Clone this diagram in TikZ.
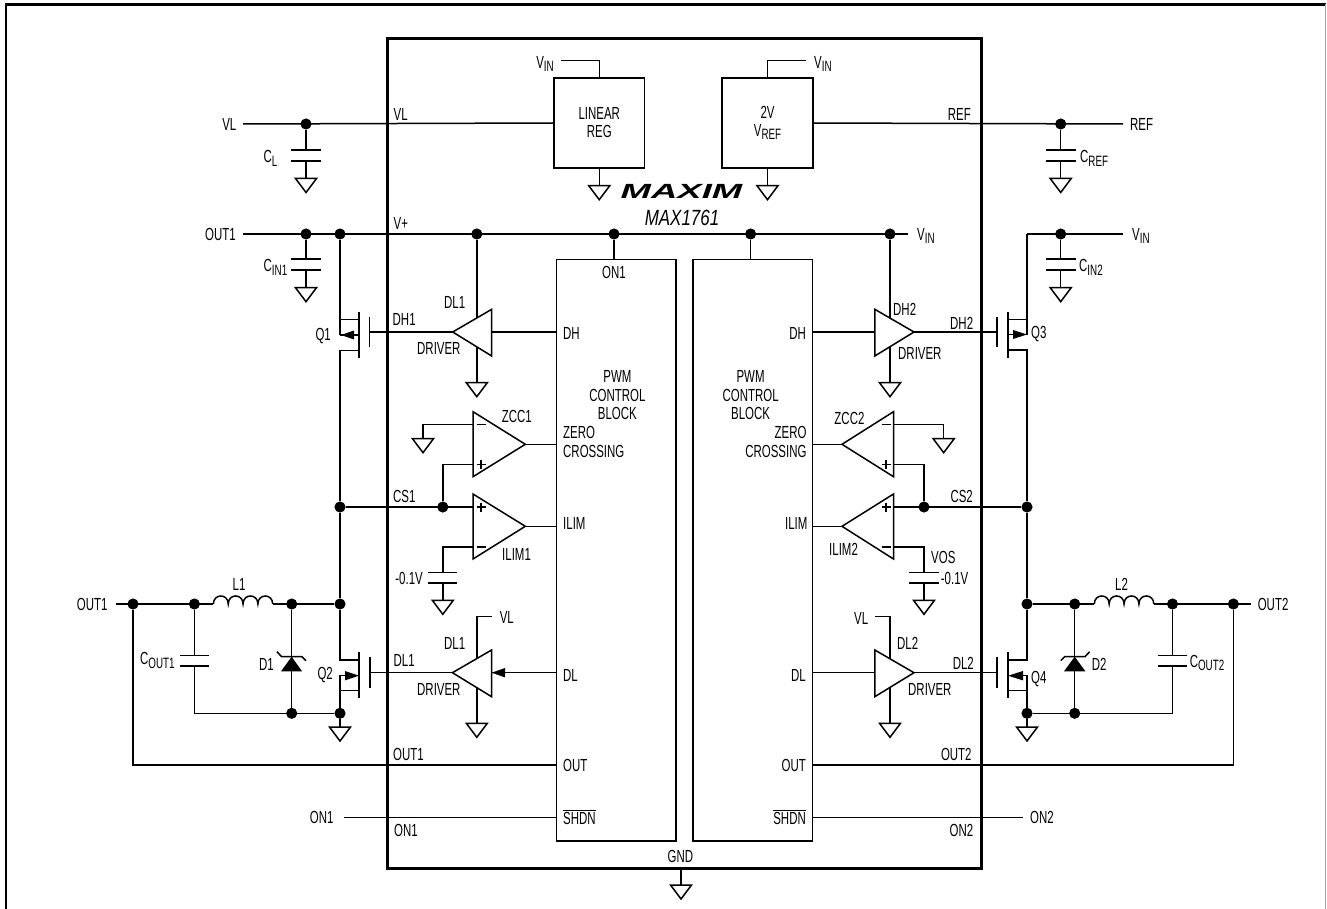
\documentclass[tikz,border=0pt]{standalone}
\usepackage{fontspec}
\setmainfont{Liberation Sans}[FakeStretch=0.655]
\newfontfamily\logof{Liberation Sans}[FakeStretch=1.78]
\newfontfamily\partf{Liberation Sans}[FakeStretch=0.77]
\newcounter{tn}
\tikzset{
  x=1pt,y=-1pt,
  wire/.style={line width=1.5pt,line cap=butt,line join=miter},
  sym/.style={line width=1.5pt,fill=white,line join=miter},
  frameline/.style={line width=2.6pt},
  icbox/.style={line width=3.4pt},
  jdot/.style={circle,fill=black,draw=none,inner sep=0pt,minimum size=11pt},
  blockn/.style={draw,line width=1.5pt,inner sep=0pt,align=center,font=\fontsize{17.5}{18}\selectfont},
  lbl/.style={inner sep=0pt,font=\fontsize{17.5}{18}\selectfont},
  tip/.style={fill=black,draw=none}
}
\newcommand\lsub[1]{\raisebox{-3.4pt}{\fontsize{15}{15}\selectfont #1}}
\newcommand\Tl[3]{\stepcounter{tn}\node[lbl,anchor=base west] (T\arabic{tn}) at (#1,#2+6.2) {#3};}
\newcommand\Tr[3]{\stepcounter{tn}\node[lbl,anchor=base east] (T\arabic{tn}) at (#1,#2+6.2) {#3};}
\newcommand\Tc[3]{\stepcounter{tn}\node[lbl,anchor=base] (T\arabic{tn}) at (#1,#2+6.2) {#3};}
\newcommand\dotn[3]{\node[jdot] (#1) at (#2,#3) {};}
\newcommand\gnd[3]{\coordinate (#1) at (#2,#3);
  \draw[sym] (#1) -- ++(-10.5,0) -- ++(10.5,14) -- ++(10.5,-14) -- cycle;}
\newcommand\capn[5]{\coordinate (#1a) at (#2,#3); \coordinate (#1b) at (#2,#4);
  \draw[wire] (#1a) +(-#5,0) -- +(#5,0); \draw[wire] (#1b) +(-#5,0) -- +(#5,0);}
% triangle: name, base x, tip x, top y, mid y, bottom y
\newcommand\tri[6]{\coordinate (#1t) at (#2,#4); \coordinate (#1p) at (#3,#5); \coordinate (#1b) at (#2,#6);
  \coordinate (#1m) at (#2,#5);
  \draw[sym] (#1t) -- (#1p) -- (#1b) -- cycle;}
% coil: name, x0, x1, y
\newcommand\coil[4]{\coordinate (#1a) at (#2,#4); \coordinate (#1e) at (#3,#4);
  \coordinate (#1b) at ($(#1a)!.25!(#1e)$); \coordinate (#1c) at ($(#1a)!.5!(#1e)$); \coordinate (#1d) at ($(#1a)!.75!(#1e)$);
  \draw[wire] (#1a) .. controls +(0,-10.7) and +(0,-10.7) .. (#1b) .. controls +(0,-10.7) and +(0,-10.7) .. (#1c)
     .. controls +(0,-10.7) and +(0,-10.7) .. (#1d) .. controls +(0,-10.7) and +(0,-10.7) .. (#1e);}
\usetikzlibrary{calc}
\begin{document}
\begin{tikzpicture}
\useasboundingbox (0,0) rectangle (1327,909);
% frame
\coordinate (fa) at (6,909); \coordinate (fb) at (6,4.5); \coordinate (fc) at (1325.5,4.5); \coordinate (fd) at (1325.5,909);
\draw[frameline] (fa) -- (fb) -- (fc);
\draw[line width=1pt,black!35] (fc) -- (fd);
% IC
\node[draw,icbox,minimum width=594pt,minimum height=830pt,inner sep=0pt,anchor=north west] (ic) at (386,37) {};
% blocks
\node[blockn,minimum width=90.5pt,minimum height=90pt] (lin) at (599.25,123) {LINEAR\\REG};
\node[blockn,minimum width=91pt,minimum height=90pt] (vref) at (767.5,123) {2V\\V\lsub{REF}};
\node[blockn,minimum width=119.5pt,minimum height=581.3pt,anchor=north west] (pwmL) at (555.5,258.7) {};
\node[blockn,minimum width=119.5pt,minimum height=581.3pt,anchor=north west] (pwmR) at (692,258.7) {};
% junction dots
\dotn{dVL}{306}{124}
\dotn{dREF}{1060.7}{124}
\dotn{dP1}{306}{234}\dotn{dP2}{340}{234}\dotn{dP3}{476.8}{234}\dotn{dP4}{614}{234}\dotn{dP5}{750.6}{234}\dotn{dP6}{890}{234}
\dotn{dIN2}{1060.7}{234}
\dotn{dCS1a}{340}{507}\dotn{dCS1b}{442.8}{507}
\dotn{dCS2a}{1027}{507}\dotn{dCS2b}{924}{507}
\dotn{dL1a}{133}{604}\dotn{dL1b}{194.4}{604}\dotn{dL1c}{291.7}{604}\dotn{dL1d}{340}{604}
\dotn{dL2a}{1027}{604}\dotn{dL2b}{1074.7}{604}\dotn{dL2c}{1172.5}{604}\dotn{dL2d}{1233.4}{604}
\dotn{dG1a}{291.7}{713.3}\dotn{dG1b}{340}{713.3}
\dotn{dG2a}{1074.7}{713.3}\dotn{dG2b}{1027}{713.3}
% free ends
\coordinate (eVL) at (243,124);
\coordinate (eREF) at (1123,124);
\coordinate (eOUT1) at (243,234);
\coordinate (eVIN) at (908.4,234);
\coordinate (eVIN2) at (1123,234);
\coordinate (cIN2) at (1027,234);
\coordinate (eLinV) at (560.6,60.7); \coordinate (kLinV) at (lin.north|-eLinV);
\coordinate (eRefV) at (806,60.7); \coordinate (kRefV) at (vref.north|-eRefV);
\coordinate (eL1) at (116,604);
\coordinate (eL2) at (1250.8,604);
\coordinate (eON1) at (344,817.3);
\coordinate (eON2) at (1022.8,817.3);
% top wires
\draw[wire] (eVL) -- (lin.west);
\draw[wire] (vref.east) -- (eREF);
\draw[wire] (eLinV) -- (kLinV) -- (lin.north);
\draw[wire] (eRefV) -- (kRefV) -- (vref.north);
\gnd{gLin}{599.25}{185.7}\gnd{gRef}{767.5}{185.7}
\draw[wire] (lin.south) -- (gLin);
\draw[wire] (vref.south) -- (gRef);
\capn{cL}{306}{150}{161}{15}\gnd{gCL}{306}{178.5}
\draw[wire] (dVL) -- (cLa); \draw[wire] (cLb) -- (gCL);
\capn{cR}{1060.7}{150}{161}{15}\gnd{gCR}{1060.7}{178.5}
\draw[wire] (dREF) -- (cRa); \draw[wire] (cRb) -- (gCR);
% V+ rail
\draw[wire] (eOUT1) -- (eVIN);
\draw[wire] (dP4) -- (dP4|-pwmL.north);
\draw[wire] (dP5) -- (dP5|-pwmR.north);
\capn{cI1}{306}{259}{270}{15}\gnd{gI1}{306}{287.7}
\draw[wire] (dP1) -- (cI1a); \draw[wire] (cI1b) -- (gI1);
\draw[wire] (cIN2) -- (eVIN2);
\capn{cI2}{1060.7}{259}{270}{15}\gnd{gI2}{1060.7}{287.7}
\draw[wire] (dIN2) -- (cI2a); \draw[wire] (cI2b) -- (gI2);
% Q1
\coordinate (q1t) at (340,319.7); \coordinate (q1u) at (359,319.7);
\coordinate (q1m) at (340,335); \coordinate (q1n) at (359,335);
\coordinate (q1l) at (340,350.3); \coordinate (q1v) at (359,350.3);
\draw[wire] (dP2) -- (q1m);
\draw[wire] (q1t) -- (q1u);
\draw[wire] (q1v) -- (q1l) -- (dCS1a);
\draw[wire] (dCS1a) -- (dL1d);
\draw[wire] (q1n) -- (q1m);
\draw[line width=1.5pt] (359,312) -- (359,358);
\draw[line width=1.5pt] (369.7,317) -- (369.7,347);
\fill[tip] (341,335) -- (354,330.5) -- (354,339.5) -- cycle;
% Q3
\coordinate (q3t) at (1027,319.3); \coordinate (q3u) at (1008,319.3);
\coordinate (q3m) at (1027,334.5); \coordinate (q3n) at (1008,334.5);
\coordinate (q3l) at (1027,350); \coordinate (q3v) at (1008,350);
\draw[wire] (cIN2) -- (q3m);
\draw[wire] (q3t) -- (q3u);
\draw[wire] (q3v) -- (q3l) -- (dCS2a);
\draw[wire] (dCS2a) -- (dL2a);
\draw[wire] (q3n) -- (q3m);
\draw[line width=1.5pt] (1008,312) -- (1008,358);
\draw[line width=1.5pt] (997,317) -- (997,347);
\fill[tip] (1027,334.5) -- (1013,330) -- (1013,339) -- cycle;
% Q2
\coordinate (q2t) at (340,660); \coordinate (q2u) at (359,660);
\coordinate (q2m) at (340,675.7); \coordinate (q2n) at (347,675.7);
\coordinate (q2l) at (340,690.7); \coordinate (q2v) at (359,690.7);
\draw[wire] (dL1d) -- (q2t) -- (q2u);
\draw[wire] (q2v) -- (q2l);
\draw[wire] (q2n) -- (q2m) -- (dG1b);
\draw[line width=1.5pt] (359,652) -- (359,698.3);
\draw[line width=1.5pt] (370,656.7) -- (370,687.7);
\fill[tip] (359,675.7) -- (345,671) -- (345,680.4) -- cycle;
% Q4
\coordinate (q4t) at (1027,660); \coordinate (q4u) at (1008,660);
\coordinate (q4m) at (1027,675.7); \coordinate (q4n) at (1020,675.7);
\coordinate (q4l) at (1027,690.7); \coordinate (q4v) at (1008,690.7);
\draw[wire] (dL2a) -- (q4t) -- (q4u);
\draw[wire] (q4v) -- (q4l);
\draw[wire] (q4n) -- (q4m) -- (dG2b);
\draw[line width=1.5pt] (1008,652) -- (1008,698.3);
\draw[line width=1.5pt] (997,656.7) -- (997,687.7);
\fill[tip] (1008,675.7) -- (1023,671) -- (1023,680.4) -- cycle;
% driver wires
\gnd{gD1}{476.8}{382.7}\gnd{gD2}{890}{382.7}\gnd{gD3}{476.8}{723.3}\gnd{gD4}{890}{723.3}
\draw[wire] (dP3) -- (gD1);
\draw[wire] (dP6) -- (gD2);
\coordinate (vlL) at (491.6,616.7); \coordinate (vlLk) at (476.8,616.7);
\coordinate (vlR) at (875,616.7); \coordinate (vlRk) at (890,616.7);
\draw[wire] (vlL) -- (vlLk) -- (gD3);
\draw[wire] (vlR) -- (vlRk) -- (gD4);
% drivers
\tri{drA}{491.7}{452.7}{309.3}{332}{356}
\tri{drB}{874.8}{914}{309.3}{332}{356}
\tri{drC}{491.6}{452.4}{650}{672.7}{696.7}
\tri{drD}{874.8}{914}{650}{672.7}{696.7}
\draw[wire] (drAp) -- (369.7,332);
\draw[wire] (drAm) -- (drAm-|pwmL.west);
\draw[wire] (drBm-|pwmR.east) -- (drBm);
\draw[wire] (drBp) -- (997,332);
\draw[wire] (drCp) -- (370,672.7);
\draw[wire] (drCm) -- (drCm-|pwmL.west);
\fill[tip] (491.6,672.7) -- (505,668) -- (505,677.4) -- cycle;
\draw[wire] (drDm-|pwmR.east) -- (drDm);
\draw[wire] (drDp) -- (997,672.7);
% comparators
\tri{zA}{473}{525.3}{411.7}{444.3}{476.7}
\tri{zB}{893.5}{842}{411.7}{444.3}{476.7}
\tri{iA}{473}{525.3}{494}{526.3}{559}
\tri{iB}{893.5}{842}{494}{526.3}{559}
\draw[wire] (zAp) -- (zAp-|pwmL.west);
\draw[wire] (zBp) -- (zBp-|pwmR.east);
\draw[wire] (iAp) -- (iAp-|pwmL.west);
\draw[wire] (iBp) -- (iBp-|pwmR.east);
\gnd{gZA}{423}{438.7}\gnd{gZB}{943.7}{438.7}
\coordinate (zAn) at (473,424.3); \coordinate (zAk) at (423,424.3);
\coordinate (zBn) at (893.5,424.3); \coordinate (zBk) at (943.7,424.3);
\draw[wire] (zAn) -- (zAk) -- (gZA);
\draw[wire] (zBn) -- (zBk) -- (gZB);
\coordinate (zAq) at (473,464.7); \coordinate (zBq) at (893.5,464.7);
\draw[wire] (zAq) -| (dCS1b);
\draw[wire] (zBq) -| (dCS2b);
\coordinate (iAq) at (473,507); \coordinate (iBq) at (893.5,507);
\draw[wire] (dCS1a) -- (iAq);
\draw[wire] (iBq) -- (dCS2a);
\coordinate (iAn) at (473,547); \coordinate (iBn) at (893.5,547);
\capn{cOA}{442.8}{572.3}{583}{14.5}\capn{cOB}{924}{572.3}{583}{15}
\gnd{gOA}{442.8}{600.3}\gnd{gOB}{924}{600.3}
\draw[wire] (iAn) -| (cOAa); \draw[wire] (cOAb) -- (gOA);
\draw[wire] (iBn) -| (cOBa); \draw[wire] (cOBb) -- (gOB);
% +/- signs
\foreach \sx/\sy in {481/424.3,481/547,886/424.3,886/547}{\draw[line width=1.5pt] (\sx-4.5,\sy) -- (\sx+4.5,\sy);}
\foreach \sx/\sy in {481/464.7,481/507,886/464.7,886/507}{\draw[line width=1.5pt] (\sx-4.5,\sy) -- (\sx+4.5,\sy) (\sx,\sy-4.5) -- (\sx,\sy+4.5);}
% L1 section
\coil{lA}{213.4}{272.7}{604}
\draw[wire] (eL1) -- (lAa);
\draw[wire] (lAe) -- (dL1d);
\draw[wire] (dL1a) |- (pwmL.west|-0,765);
\capn{cOa}{194.4}{655.3}{666}{14.7}
\draw[wire] (dL1b) -- (cOaa);
\draw[wire] (cOab) |- (dG1b);
\draw[wire] (dL1c) -- (dG1a);
\fill[tip] (291.7,656.7) -- (281,671.3) -- (302,671.3) -- cycle;
\draw[wire] (277,651.7) -- (281.6,656.7) -- (302,656.7) -- (306,660.7);
\gnd{gQ2}{340}{727}
\draw[wire] (dG1b) -- (gQ2);
% L2 section
\coil{lB}{1094.3}{1153.8}{604}
\draw[wire] (dL2a) -- (lBa);
\draw[wire] (lBe) -- (eL2);
\draw[wire] (dL2d) |- (pwmR.east|-0,765);
\capn{cOb}{1172.5}{655.3}{666}{14.7}
\draw[wire] (dL2c) -- (cOba);
\draw[wire] (cObb) |- (dG2b);
\draw[wire] (dL2b) -- (dG2a);
\fill[tip] (1074.7,656.7) -- (1064,671.3) -- (1085.4,671.3) -- cycle;
\draw[wire] (1060.7,660.7) -- (1064.7,656.7) -- (1085,656.7) -- (1089.6,651.7);
\gnd{gQ4}{1027}{727}
\draw[wire] (dG2b) -- (gQ4);
% ON lines
\draw[wire] (eON1) -- (eON1-|pwmL.west);
\draw[wire] (pwmR.east|-eON2) -- (eON2);
% GND
\gnd{gGND}{681}{885}
\coordinate (icb) at (681,867);
\draw[wire] (icb) -- (gGND);
% redraw junction dots over wires
\foreach \d in {dVL,dREF,dP1,dP2,dP3,dP4,dP5,dP6,dIN2,dCS1a,dCS1b,dCS2a,dCS2b,dL1a,dL1b,dL1c,dL1d,dL2a,dL2b,dL2c,dL2d,dG1a,dG1b,dG2a,dG2b}{\fill (\d) circle[radius=5.3pt];}
% logo and part number
\node[inner sep=0pt,font=\logof\bfseries\itshape\fontsize{20.5}{22}\selectfont] (logo) at (681.5,191.5) {MAXIM};
\node[inner sep=0pt,font=\partf\itshape\fontsize{22}{24}\selectfont] (part) at (682,218) {MAX1761};
% labels outside left
\Tr{236.5}{124}{VL}\Tl{393.5}{114}{VL}
\Tr{554}{62}{V\lsub{IN}}\Tl{814}{62}{V\lsub{IN}}
\Tr{971}{114}{REF}\Tl{1130}{124}{REF}
\Tl{263.5}{156.5}{C\lsub{L}}\Tl{1080}{156.5}{C\lsub{REF}}
\Tr{236}{234}{OUT1}\Tl{393.5}{223}{V+}\Tl{917}{234}{V\lsub{IN}}\Tl{1132}{234}{V\lsub{IN}}
\Tl{263.5}{265.5}{C\lsub{IN1}}\Tl{1079}{265.5}{C\lsub{IN2}}
\Tc{614}{272}{ON1}
\Tr{331}{334}{Q1}\Tl{1031}{332}{Q3}
\Tl{444}{302}{DL1}\Tl{417}{348}{DRIVER}\Tl{392.5}{319}{DH1}\Tl{563}{333}{DH}
\Tl{893}{309}{DH2}\Tl{898}{353}{DRIVER}\Tl{950}{323}{DH2}\Tr{806}{333}{DH}
\Tc{617.4}{376}{PWM}\Tc{617.4}{395}{CONTROL}\Tc{617.4}{413}{BLOCK}
\Tc{750.6}{376}{PWM}\Tc{750.6}{395}{CONTROL}\Tc{750.6}{413}{BLOCK}
\Tl{501.7}{416.7}{ZCC1}\Tl{563}{432}{ZERO}\Tl{563}{451}{CROSSING}
\Tr{864.6}{418}{ZCC2}\Tr{806.7}{432}{ZERO}\Tr{806.7}{451}{CROSSING}
\Tl{393}{496.7}{CS1}\Tr{973}{496.7}{CS2}
\Tl{563}{523}{ILIM}\Tr{807.6}{523}{ILIM}
\Tl{502}{554}{ILIM1}\Tl{829}{549}{ILIM2}
\Tr{423}{578}{-0.1V}\Tl{940.7}{578}{-0.1V}\Tl{931}{557}{VOS}
\Tr{107.7}{604}{OUT1}\Tl{1257.6}{604}{OUT2}
\Tc{239}{584}{L1}\Tc{1121.5}{584}{L2}
\Tl{140}{658.5}{C\lsub{OUT1}}\Tl{1189.6}{661}{C\lsub{OUT2}}
\Tr{274}{664}{D1}\Tl{1091.7}{664}{D2}
\Tr{333}{673}{Q2}\Tl{1031}{677}{Q4}
\Tl{499.6}{617.7}{VL}\Tr{868.4}{618}{VL}
\Tl{444}{643}{DL1}\Tl{897}{643}{DL2}
\Tl{393.5}{660}{DL1}\Tr{974}{663}{DL2}
\Tl{417}{689}{DRIVER}\Tl{908}{689}{DRIVER}
\Tl{563}{675.7}{DL}\Tr{806}{675.7}{DL}
\Tl{393}{754}{OUT1}\Tr{971.8}{754}{OUT2}
\Tl{563}{765}{OUT}\Tr{806}{765}{OUT}
\Tr{333.7}{817}{ON1}\Tl{1030}{817}{ON2}
\Tl{394}{830}{ON1}\Tr{973.5}{830}{ON2}
\Tl{563}{818}{$\overline{\hbox{SHDN}}$}\Tr{806}{818}{$\overline{\hbox{SHDN}}$}
\Tc{680.4}{856}{GND}
\end{tikzpicture}
\end{document}
